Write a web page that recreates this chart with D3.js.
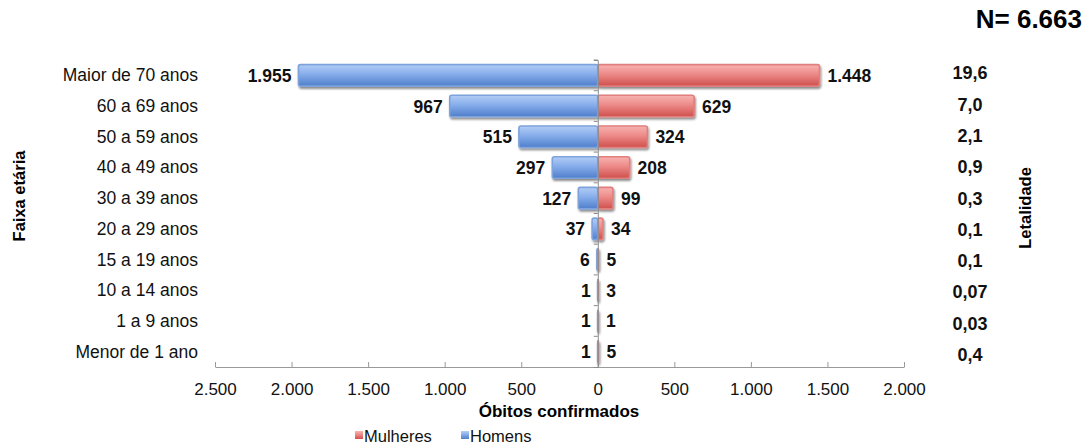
<!DOCTYPE html>
<html>
<head>
<meta charset="utf-8">
<script src="https://cdn.jsdelivr.net/npm/d3@7/dist/d3.min.js"></script>
<style>
  html, body { margin: 0; padding: 0; background: #fff; }
  svg { display: block; font-family: "Liberation Sans", Arial, sans-serif; }
</style>
</head>
<body>
<svg id="chart" width="1085" height="446"></svg>
<script>
// Faixas etárias, da mais velha para a mais nova
const faixas = ["Maior de 70 anos", "60 a 69 anos", "50 a 59 anos", "40 a 49 anos",
  "30 a 39 anos", "20 a 29 anos", "15 a 19 anos", "10 a 14 anos", "1 a 9 anos", "Menor de 1 ano"];
const homens = [1955, 967, 515, 297, 127, 37, 6, 1, 1, 1];
const mulheres = [1448, 629, 324, 208, 99, 34, 5, 3, 1, 5];
const letalidade = ["19,6", "7,0", "2,1", "0,9", "0,3", "0,1", "0,1", "0,07", "0,03", "0,4"];
const ticks = [-2500, -2000, -1500, -1000, -500, 0, 500, 1000, 1500, 2000];
const totalObitos = "N= 6.663";

const svg = d3.select("#chart");
const fmt = v => d3.format(",")(Math.abs(v)).replace(/,/g, ".");

const x = d3.scaleLinear().domain([-2500, 2000]).range([215, 904]);
const y = d3.scaleBand().domain(faixas).range([60, 367]).paddingInner(0.3).paddingOuter(0.15);

// gradientes e sombra das barras
const defs = svg.append("defs");
function grad(id, stops) {
  const g = defs.append("linearGradient").attr("id", id)
    .attr("x1", 0).attr("y1", 0).attr("x2", 0).attr("y2", 1);
  stops.forEach(([o, c]) => g.append("stop").attr("offset", o).attr("stop-color", c));
}
grad("gBlue", [[0, "#b3cdf5"], [0.45, "#86adeb"], [1, "#4f7ecb"]]);
grad("gRed", [[0, "#f7b3b1"], [0.45, "#ec8a88"], [1, "#cf4f4c"]]);
const sh = defs.append("filter").attr("id", "shadow")
  .attr("x", "-10%").attr("y", "-20%").attr("width", "130%").attr("height", "160%");
sh.append("feDropShadow").attr("dx", 1).attr("dy", 2).attr("stdDeviation", 1.2)
  .attr("flood-color", "#000").attr("flood-opacity", 0.45);

const rows = faixas.map((f, i) => ({ f, i, h: homens[i], m: mulheres[i], l: letalidade[i] }));
const mid = d => y(d.f) + y.bandwidth() / 2;

// eixo horizontal
const xAxis = d3.axisBottom(x).tickValues(ticks).tickFormat(fmt).tickSizeInner(-5).tickSizeOuter(0).tickPadding(16);
const gx = svg.append("g").attr("transform", "translate(0,367)").call(xAxis);
gx.select(".domain").attr("stroke", "#9a9a9a");
gx.selectAll(".tick line").attr("stroke", "#9a9a9a");
gx.selectAll(".tick text").attr("font-size", 17).attr("fill", "#111")
  .attr("font-family", "'Liberation Sans', Arial, sans-serif");

// barras
const bars = svg.append("g").attr("filter", "url(#shadow)");
bars.selectAll(".h").data(rows).join("rect")
  .attr("x", d => x(-d.h)).attr("y", d => y(d.f))
  .attr("width", d => x(0) - x(-d.h)).attr("height", y.bandwidth())
  .attr("rx", 2).attr("fill", "url(#gBlue)")
  .attr("stroke", "#7ea3dc").attr("stroke-width", 1.6);
bars.selectAll(".m").data(rows).join("rect")
  .attr("x", x(0)).attr("y", d => y(d.f))
  .attr("width", d => x(d.m) - x(0)).attr("height", y.bandwidth())
  .attr("rx", 2).attr("fill", "url(#gRed)")
  .attr("stroke", "#e07f7d").attr("stroke-width", 1.6);

// eixo vertical no zero
const yAxis = d3.axisLeft(y).tickSize(4).tickFormat("");
const gy = svg.append("g").attr("transform", `translate(${x(0)},0)`).call(yAxis);
gy.select(".domain").attr("stroke", "#8a8a8a");
gy.selectAll(".tick line").attr("stroke", "#8a8a8a")
  .attr("transform", `translate(0,${-y.step() / 2})`);

// rótulos das faixas
svg.append("g").selectAll("text").data(rows).join("text")
  .attr("x", 198).attr("y", d => mid(d) + 6)
  .attr("text-anchor", "end").attr("font-size", 17.5).attr("fill", "#111")
  .text(d => d.f);

// valores
svg.append("g").selectAll("text").data(rows).join("text")
  .attr("x", d => x(-d.h) - 7).attr("y", d => mid(d) + 6.5)
  .attr("text-anchor", "end").attr("font-size", 17.5).attr("font-weight", "bold").attr("fill", "#111")
  .text(d => fmt(d.h));
svg.append("g").selectAll("text").data(rows).join("text")
  .attr("x", d => x(d.m) + 8).attr("y", d => mid(d) + 6.5)
  .attr("text-anchor", "start").attr("font-size", 17.5).attr("font-weight", "bold").attr("fill", "#111")
  .text(d => fmt(d.m));

// letalidade
svg.append("g").selectAll("text").data(rows).join("text")
  .attr("x", 970).attr("y", d => mid(d) + 5 + d.i * 0.6 - 1)
  .attr("text-anchor", "middle").attr("font-size", 18).attr("font-weight", "bold").attr("fill", "#111")
  .text(d => d.l);

// títulos
svg.append("text").attr("transform", "translate(25,196) rotate(-90)")
  .attr("text-anchor", "middle").attr("font-size", 16.5).attr("font-weight", "bold").text("Faixa etária");
svg.append("text").attr("transform", "translate(1031,208) rotate(-90)")
  .attr("text-anchor", "middle").attr("font-size", 16.5).attr("font-weight", "bold").text("Letalidade");
svg.append("text").attr("x", 559).attr("y", 417)
  .attr("text-anchor", "middle").attr("font-size", 17).attr("font-weight", "bold").text("Óbitos confirmados");
svg.append("text").attr("x", 1082).attr("y", 28)
  .attr("text-anchor", "end").attr("font-size", 26).attr("font-weight", "bold").text(totalObitos);

// legenda
const legend = [["Mulheres", "url(#gRed)", 355], ["Homens", "url(#gBlue)", 461]];
const lg = svg.append("g");
legend.forEach(([nome, cor, lx]) => {
  lg.append("rect").attr("x", lx).attr("y", 431).attr("width", 8).attr("height", 8).attr("fill", cor);
  lg.append("text").attr("x", lx + 9).attr("y", 442).attr("font-size", 16.5).attr("fill", "#111").text(nome);
});
</script>
</body>
</html>
